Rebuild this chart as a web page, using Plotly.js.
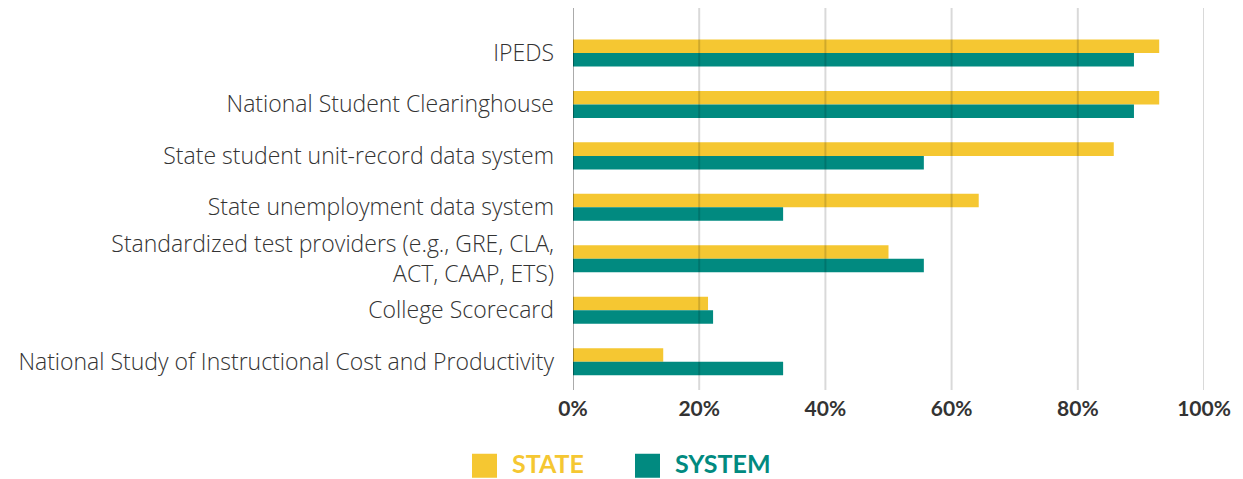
<!DOCTYPE html>
<html>
<head>
<meta charset="utf-8">
<script src="https://cdn.plot.ly/plotly-3.0.1.min.js"></script>
<style>html,body{margin:0;padding:0;background:#fff;}#chart{width:1243px;height:479px;}</style>
</head>
<body>
<div id="chart"></div>
<script>
const categories = [
  "IPEDS",
  "National Student Clearinghouse",
  "State student unit-record data system",
  "State unemployment data system",
  "Standardized test providers (e.g., GRE, CLA,<br>ACT, CAAP, ETS)",
  "College Scorecard",
  "National Study of Instructional Cost and Productivity"
];
const stateValues = [92.9, 92.9, 85.7, 64.3, 50.0, 21.4, 14.3];
const systemValues = [88.9, 88.9, 55.6, 33.3, 55.6, 22.2, 33.3];
const tickValues = [0, 20, 40, 60, 80, 100];
const tickLabels = ["0%", "20%", "40%", "60%", "80%", "100%"];

const YELLOW = "#F5C732";
const TEAL = "#018A80";

const traces = [
  {type: "bar", orientation: "h", name: '<span style="color:' + YELLOW + '">STATE</span>',
   y: categories, x: stateValues, marker: {color: YELLOW}, hoverinfo: "x"},
  {type: "bar", orientation: "h", name: '<span style="color:' + TEAL + '">SYSTEM</span>',
   y: categories, x: systemValues, marker: {color: TEAL}, hoverinfo: "x"}
];

const gridShapes = tickValues.map(v => ({
  type: "line", xref: "x", yref: "paper", x0: v, x1: v, y0: 0, y1: 1,
  layer: "above",
  line: {color: v === 0 ? "rgba(0,0,0,0.33)" : "rgba(0,0,0,0.15)", width: 2}
}));

const layout = {
  width: 1243, height: 479,
  margin: {l: 573, r: 39, t: 8, b: 89, autoexpand: false},
  paper_bgcolor: "#fff", plot_bgcolor: "#fff",
  barmode: "group", bargap: 0.475, bargroupgap: 0,
  font: {family: "Lato, 'Open Sans', sans-serif", color: "#333"},
  xaxis: {
    range: [0, 100], tickvals: tickValues, ticktext: tickLabels,
    showgrid: false, zeroline: false, showline: false, fixedrange: true,
    tickfont: {family: "Lato, sans-serif", size: 21, color: "#333", weight: 700},
    ticks: "", ticklabelstandoff: 4
  },
  yaxis: {
    type: "category", categoryorder: "array", categoryarray: categories,
    range: [6.55, -0.874], showgrid: false, zeroline: false, showline: false,
    tickfont: {family: "'Open Sans', sans-serif", size: 23, color: "#333", weight: 300},
    ticks: "", ticklabelstandoff: 18, fixedrange: true
  },
  shapes: gridShapes,
  showlegend: true,
  legend: {
    orientation: "h", xref: "container", yref: "container",
    x: 472 / 1243, xanchor: "left",
    y: 16 / 479, yanchor: "middle",
    font: {family: "Lato, sans-serif", size: 25, weight: 700},
    itemclick: false, itemdoubleclick: false, traceorder: "normal",
    entrywidth: 118, entrywidthmode: "pixels"
  }
};

Plotly.newPlot("chart", traces, layout, {displayModeBar: false, staticPlot: true}).then(gd => {
  gd.querySelectorAll(".legend .legendpoints path").forEach(p => {
    p.setAttribute("d", "M5,15H-20V-9H5Z");
  });
});
</script>
</body>
</html>
